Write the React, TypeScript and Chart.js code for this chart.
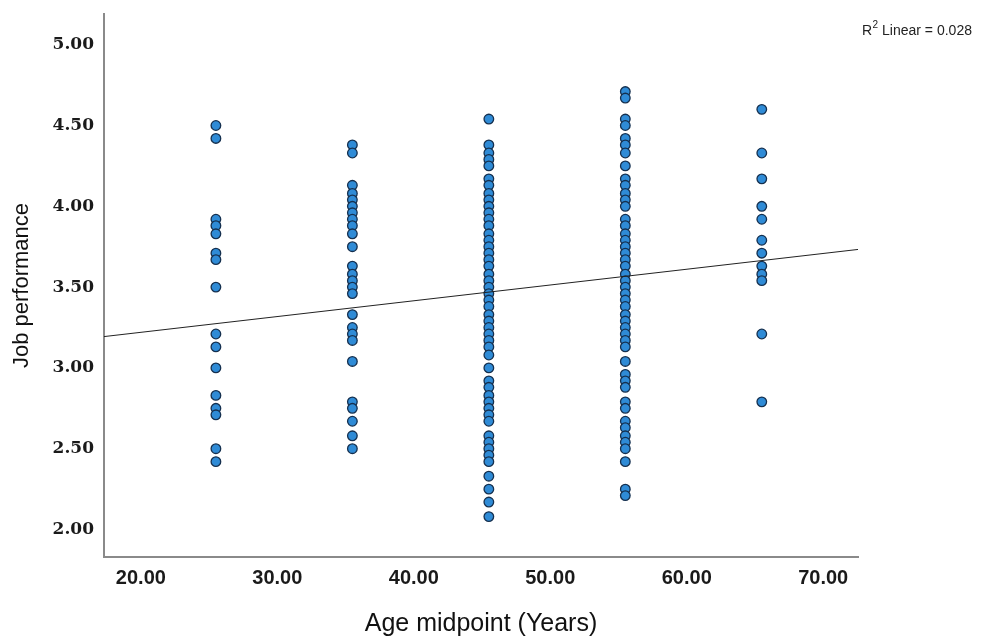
import React, { useEffect, useRef } from "react";
import { Chart, registerables } from "chart.js";

Chart.register(...registerables);

const ageGroups = [25.5, 35.5, 45.5, 55.5, 65.5];

const perf25 = [4.5, 4.42, 3.92, 3.88, 3.83, 3.71, 3.67, 3.5, 3.21, 3.13, 3.0, 2.83, 2.75, 2.71, 2.5, 2.42];
const perf35 = [4.38, 4.33, 4.13, 4.08, 4.04, 4.0, 3.96, 3.92, 3.88, 3.83, 3.75, 3.63, 3.58, 3.54, 3.5, 3.46, 3.33, 3.25, 3.21, 3.17, 3.04, 2.79, 2.75, 2.67, 2.58, 2.5];
const perf45 = [4.54, 4.38, 4.33, 4.29, 4.25, 4.17, 4.13, 4.08, 4.04, 4.0, 3.96, 3.92, 3.88, 3.83, 3.79, 3.75, 3.71, 3.67, 3.63, 3.58, 3.54, 3.5, 3.46, 3.42, 3.38, 3.33, 3.29, 3.25, 3.21, 3.17, 3.13, 3.08, 3.0, 2.92, 2.88, 2.83, 2.79, 2.75, 2.71, 2.67, 2.58, 2.54, 2.5, 2.46, 2.42, 2.33, 2.25, 2.17, 2.08];
const perf55 = [4.71, 4.67, 4.54, 4.5, 4.42, 4.38, 4.33, 4.25, 4.17, 4.13, 4.08, 4.04, 4.0, 3.92, 3.88, 3.83, 3.79, 3.75, 3.71, 3.67, 3.63, 3.58, 3.54, 3.5, 3.46, 3.42, 3.38, 3.33, 3.29, 3.25, 3.21, 3.17, 3.13, 3.04, 2.96, 2.92, 2.88, 2.79, 2.75, 2.67, 2.63, 2.58, 2.54, 2.5, 2.42, 2.25, 2.21];
const perf65 = [4.6, 4.33, 4.17, 4.0, 3.92, 3.79, 3.71, 3.63, 3.58, 3.54, 3.21, 2.79];

const perfByGroup = [perf25, perf35, perf45, perf55, perf65];

// Fit line
const fitIntercept = 3.025;
const fitSlope = 0.00976;
const r2Label = "0.028";

const xMin = 17.3;
const xMax = 72.55;
const yMin = 1.83;
const yMax = 5.19;
const xTicks = [20, 30, 40, 50, 60, 70];
const yTicks = [2, 2.5, 3, 3.5, 4, 4.5, 5];

const r2Plugin = {
  id: "r2label",
  afterDraw(chart: any) {
    const ctx = chart.ctx;
    ctx.save();
    ctx.fillStyle = "#222";
    ctx.textBaseline = "alphabetic";
    ctx.textAlign = "left";
    ctx.font = "14px 'Liberation Sans', Arial, sans-serif";
    const x0 = 862;
    const y0 = 35;
    ctx.fillText("R", x0, y0);
    const rw = ctx.measureText("R").width;
    ctx.font = "10px 'Liberation Sans', Arial, sans-serif";
    ctx.fillText("2", x0 + rw + 0.5, y0 - 7);
    const w2 = ctx.measureText("2").width;
    ctx.font = "14px 'Liberation Sans', Arial, sans-serif";
    ctx.fillText(" Linear = " + r2Label, x0 + rw + 0.5 + w2, y0);
    ctx.restore();
  },
};

export default function App() {
  const ref = useRef<HTMLCanvasElement | null>(null);

  useEffect(() => {
    document.body.style.margin = "0";
    const points: { x: number; y: number }[] = [];
    ageGroups.forEach((age, i) => {
      perfByGroup[i].forEach((v) => points.push({ x: age, y: v }));
    });
    const linePts = [
      { x: xMin, y: fitIntercept + fitSlope * xMin },
      { x: xMax, y: fitIntercept + fitSlope * xMax },
    ];
    const chart = new Chart(ref.current as HTMLCanvasElement, {
      type: "scatter",
      data: {
        datasets: [
          {
            type: "line",
            data: linePts,
            borderColor: "#222",
            borderWidth: 1,
            pointRadius: 0,
            fill: false,
            order: 0,
          } as any,
          {
            data: points,
            backgroundColor: "#2f8bd6",
            borderColor: "#15304f",
            borderWidth: 1.3,
            pointRadius: 4.8,
            order: 1,
          },
        ],
      },
      options: {
        responsive: false,
        animation: false,
        events: [],
        layout: { padding: { top: 14, right: 131, left: 0, bottom: 0 } },
        plugins: { legend: { display: false }, tooltip: { enabled: false } },
        scales: {
          x: {
            type: "linear",
            min: xMin,
            max: xMax,
            afterBuildTicks: (s: any) => {
              s.ticks = xTicks.map((v) => ({ value: v }));
            },
            afterFit: (s: any) => {
              s.height = 82;
              s.paddingLeft = 0;
              s.paddingRight = 0;
            },
            grid: { display: false, drawTicks: false },
            border: { display: true, color: "#8a8a8a", width: 2 },
            ticks: {
              padding: 9,
              color: "#1a1a1a",
              font: { family: "'Liberation Sans', Arial, sans-serif", size: 20, weight: "bold" },
              callback: (v: any) => Number(v).toFixed(2),
            },
            title: {
              display: true,
              text: "Age midpoint (Years)",
              color: "#111",
              font: { family: "'Liberation Sans', Arial, sans-serif", size: 25 },
              padding: { top: 0, bottom: 0 },
            },
          },
          y: {
            type: "linear",
            min: yMin,
            max: yMax,
            afterBuildTicks: (s: any) => {
              s.ticks = yTicks.map((v) => ({ value: v }));
            },
            afterFit: (s: any) => {
              s.width = 104;
              s.paddingTop = 0;
              s.paddingBottom = 0;
            },
            grid: { display: false, drawTicks: false },
            border: { display: true, color: "#8a8a8a", width: 2 },
            ticks: {
              padding: 10,
              color: "#1a1a1a",
              font: { family: "'DejaVu Serif', 'Liberation Serif', serif", size: 17, weight: "bold" },
              callback: (v: any) => Number(v).toFixed(2),
            },
            title: {
              display: true,
              text: "Job performance",
              color: "#111",
              font: { family: "'Liberation Sans', Arial, sans-serif", size: 22 },
              padding: { top: 9, bottom: 9 },
            },
          },
        },
      },
      plugins: [r2Plugin],
    });
    return () => chart.destroy();
  }, []);

  return (
    <div style={{ width: 989, height: 639, background: "#fff" }}>
      <canvas ref={ref} width={989} height={639} />
    </div>
  );
}
